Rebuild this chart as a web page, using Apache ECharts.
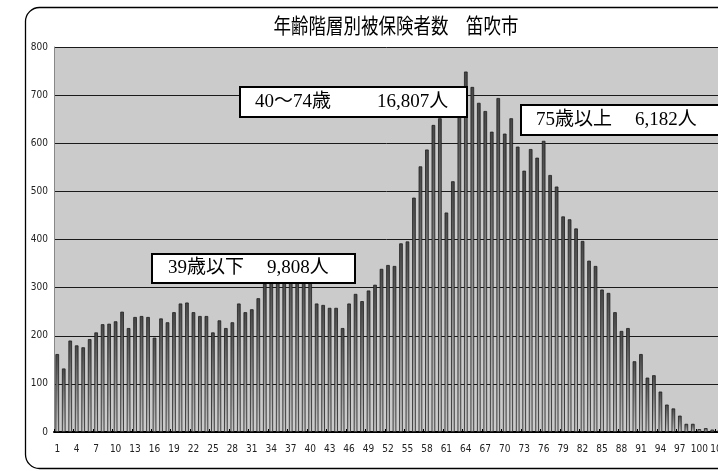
<!DOCTYPE html>
<html>
<head>
<meta charset="utf-8">
<script src="https://cdn.jsdelivr.net/npm/echarts@6/dist/echarts.min.js"></script>
<style>
html,body{margin:0;padding:0;background:#fff;}
#chart{width:718px;height:471px;}
</style>
</head>
<body>
<div id="chart"></div>
<script>
// Category labels (age bracket index as shown on the axis)
var categories = [1,2,3,4,5,6,7,8,9,10,11,12,13,14,15,16,17,18,19,20,
  21,22,23,24,25,26,27,28,29,30,31,32,33,34,35,36,37,38,39,40,
  41,42,43,44,45,46,47,48,49,50,51,52,53,54,55,56,57,58,59,60,
  61,62,63,64,65,66,67,68,69,70,71,72,73,74,75,76,77,78,79,80,
  81,82,83,84,85,86,87,88,89,90,91,92,93,94,95,96,97,98,99,100,
  101,102,103];

// Insured persons per bracket
var insured = [162,132,190,180,176,193,207,224,225,230,
  250,216,239,241,239,196,236,228,249,267,
  269,249,241,241,207,232,216,228,267,249,
  255,278,308,318,335,330,338,325,320,322,
  267,264,258,258,216,267,287,272,294,306,
  339,347,345,392,396,487,552,587,638,652,
  456,521,705,749,717,684,667,624,694,620,
  652,593,543,588,570,605,534,510,448,442,
  423,397,356,345,296,289,249,210,216,147,
  162,113,118,84,57,49,34,17,17,6,
  8,5,3];

var yTicks = [0,100,200,300,400,500,600,700,800];

var titleText = '年齢階層別被保険者数　笛吹市';
var noteGroups = [
  {label:'40〜74歳', total:'16,807人'},
  {label:'39歳以下', total:'9,808人'},
  {label:'75歳以上', total:'6,182人'}
];

var chart = echarts.init(document.getElementById('chart'), null, {renderer:'canvas'});

var narrow = "'Liberation Sans Narrow','DejaVu Sans Condensed','Liberation Sans',sans-serif";
var serif = "'Liberation Serif','DejaVu Serif','Noto Sans CJK JP',serif";
var boxFont = '19px ' + serif;

function box(x, y, w, h, note, lx, tx) {
  return [
    {type:'rect', z:100, shape:{x:x, y:y, width:w, height:h},
     style:{fill:'#fff', stroke:'#000', lineWidth:2}},
    {type:'text', z:101, x:lx, y:y + h/2,
     style:{text:note.label, font:boxFont, fill:'#000', align:'left', verticalAlign:'middle'}},
    {type:'text', z:101, x:tx, y:y + h/2,
     style:{text:note.total, font:boxFont, fill:'#000', align:'left', verticalAlign:'middle'}}
  ];
}

var graphics = [
  {type:'rect', z:90, shape:{x:25.5, y:7.5, width:730, height:461, r:14},
   style:{fill:'none', stroke:'#000', lineWidth:1.3}},
  {type:'text', z:101, x:396, y:31, scaleY:1.2, originX:396, originY:31,
   style:{text:titleText, font:'17.5px "Noto Sans CJK JP", sans-serif', fill:'#000',
          align:'center', verticalAlign:'middle'}}
].concat(
  box(240, 87, 227, 30, noteGroups[0], 255, 377),
  box(152, 254, 203, 29, noteGroups[1], 168, 267),
  box(521, 105, 210, 30, noteGroups[2], 536, 635)
);

var option = {
  animation: false,
  backgroundColor: '#fff',
  grid: {left:54, top:47, height:385, width:668, show:true,
         outerBoundsMode:'none', containLabel:false,
         backgroundColor:'#cbcbcb', borderWidth:0},
  xAxis: {
    type:'category',
    data: categories.map(String),
    axisLine:{show:true, lineStyle:{color:'#000', width:2}},
    axisTick:{show:true, inside:true, length:3, lineStyle:{color:'#000'}},
    axisLabel:{interval:2, fontSize:10, color:'#222', margin:12, fontFamily:narrow},
    splitLine:{show:false}
  },
  yAxis: {
    type:'value', min:yTicks[0], max:yTicks[yTicks.length-1], interval:yTicks[1]-yTicks[0],
    axisLine:{show:true, lineStyle:{color:'#888', width:1}},
    axisTick:{show:false},
    axisLabel:{fontSize:10, color:'#222', margin:6, fontFamily:narrow},
    splitLine:{show:true, lineStyle:{color:'#1a1a1a', width:1}}
  },
  series: [{
    type:'bar',
    data: insured,
    barWidth: 3.6,
    itemStyle:{
      color: new echarts.graphic.LinearGradient(0,0,0,1,[
        {offset:0, color:'#474747'},
        {offset:1, color:'#c6c6c6'}
      ]),
      borderColor:'#1e1e1e',
      borderWidth:0.8
    }
  }],
  graphic: graphics
};

chart.setOption(option);
</script>
</body>
</html>
